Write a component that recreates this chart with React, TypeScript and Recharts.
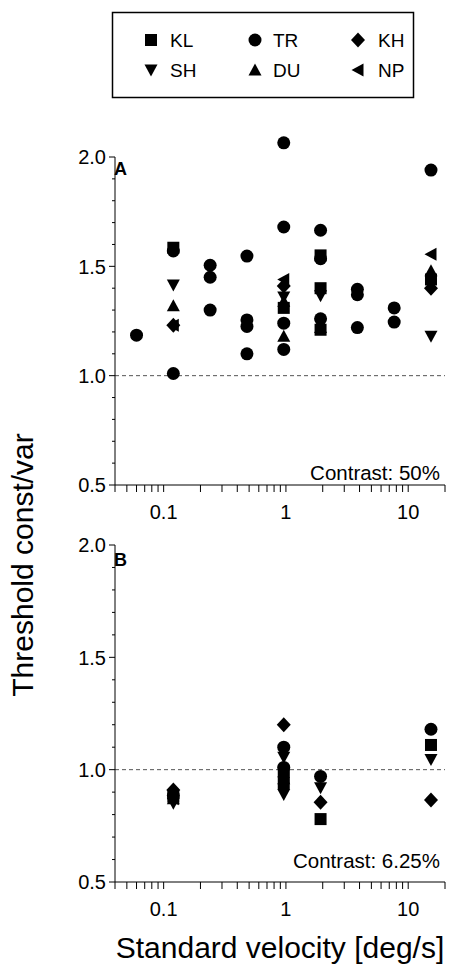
import React from 'react';
import { ScatterChart, Scatter, XAxis, YAxis, ReferenceLine, ReferenceDot } from 'recharts';

type Pt = { v: number; t: number };

const FONT = '"Liberation Sans", Arial, Helvetica, sans-serif';

// tick positions
const xMajorTicks = [0.1, 1, 10];
const xAllTicks = [
  0.04, 0.05, 0.06, 0.07, 0.08, 0.09, 0.1, 0.2, 0.3, 0.4, 0.5, 0.6, 0.7, 0.8, 0.9,
  1, 2, 3, 4, 5, 6, 7, 8, 9, 10, 20,
];
const yAllTicks = [0.5, 0.6, 0.7, 0.8, 0.9, 1.0, 1.1, 1.2, 1.3, 1.4, 1.5, 1.6, 1.7, 1.8, 1.9, 2.0];
const yMajorTicks = [0.5, 1.0, 1.5, 2.0];
const Y_MAX = 2;

// panel A, contrast 50%
const klA: Pt[] = [
  { v: 0.12, t: 1.585 }, { v: 0.96, t: 1.31 }, { v: 1.92, t: 1.55 },
  { v: 1.92, t: 1.4 }, { v: 1.92, t: 1.21 }, { v: 15.36, t: 1.44 },
];
const trA: Pt[] = [
  { v: 0.06, t: 1.185 }, { v: 0.12, t: 1.57 }, { v: 0.12, t: 1.01 },
  { v: 0.24, t: 1.505 }, { v: 0.24, t: 1.45 }, { v: 0.24, t: 1.3 },
  { v: 0.48, t: 1.547 }, { v: 0.48, t: 1.255 }, { v: 0.48, t: 1.225 }, { v: 0.48, t: 1.1 },
  { v: 0.96, t: 2.065 }, { v: 0.96, t: 1.68 }, { v: 0.96, t: 1.24 }, { v: 0.96, t: 1.12 },
  { v: 1.92, t: 1.665 }, { v: 1.92, t: 1.535 }, { v: 1.92, t: 1.26 },
  { v: 3.84, t: 1.395 }, { v: 3.84, t: 1.37 }, { v: 3.84, t: 1.22 },
  { v: 7.68, t: 1.31 }, { v: 7.68, t: 1.245 }, { v: 15.36, t: 1.94 },
];
const khA: Pt[] = [{ v: 0.12, t: 1.23 }, { v: 0.96, t: 1.41 }, { v: 15.36, t: 1.4 }];
const shA: Pt[] = [{ v: 0.12, t: 1.415 }, { v: 0.96, t: 1.36 }, { v: 1.92, t: 1.365 }, { v: 15.36, t: 1.18 }];
const duA: Pt[] = [{ v: 0.12, t: 1.32 }, { v: 0.96, t: 1.34 }, { v: 0.96, t: 1.18 }, { v: 1.92, t: 1.22 }, { v: 15.36, t: 1.48 }];
const npA: Pt[] = [{ v: 0.12, t: 1.23 }, { v: 0.96, t: 1.44 }, { v: 15.36, t: 1.555 }];

// panel B, contrast 6.25%
const klB: Pt[] = [{ v: 0.12, t: 0.88 }, { v: 0.96, t: 0.99 }, { v: 0.96, t: 0.94 }, { v: 1.92, t: 0.78 }, { v: 15.36, t: 1.11 }];
const trB: Pt[] = [{ v: 0.12, t: 0.885 }, { v: 0.96, t: 1.1 }, { v: 0.96, t: 1.01 }, { v: 1.92, t: 0.97 }, { v: 15.36, t: 1.18 }];
const khB: Pt[] = [{ v: 0.12, t: 0.91 }, { v: 0.96, t: 1.2 }, { v: 1.92, t: 0.855 }, { v: 15.36, t: 0.865 }];
const shB: Pt[] = [{ v: 0.12, t: 0.85 }, { v: 0.96, t: 1.055 }, { v: 0.96, t: 0.89 }, { v: 1.92, t: 0.92 }, { v: 15.36, t: 1.045 }];
const duB: Pt[] = [{ v: 0.12, t: 0.87 }, { v: 0.96, t: 0.96 }];
const npB: Pt[] = [{ v: 0.12, t: 0.87 }, { v: 0.96, t: 0.97 }];

const subjects = ['KL', 'TR', 'KH', 'SH', 'DU', 'NP'];
const markerKinds = ['square', 'circle', 'diamond', 'down', 'up', 'left'];

function markerEl(kind: string, cx: number, cy: number, s = 1) {
  switch (kind) {
    case 'square':
      return <rect x={cx - 6 * s} y={cy - 6 * s} width={12 * s} height={12 * s} fill="#000" />;
    case 'circle':
      return <circle cx={cx} cy={cy} r={6.5 * s} fill="#000" />;
    case 'diamond':
      return (
        <polygon
          fill="#000"
          points={`${cx},${cy - 7.5 * s} ${cx + 7 * s},${cy} ${cx},${cy + 7.5 * s} ${cx - 7 * s},${cy}`}
        />
      );
    case 'down':
      return (
        <polygon fill="#000" points={`${cx - 6.5 * s},${cy - 5.5 * s} ${cx + 6.5 * s},${cy - 5.5 * s} ${cx},${cy + 6.5 * s}`} />
      );
    case 'up':
      return (
        <polygon fill="#000" points={`${cx - 6.5 * s},${cy + 5.5 * s} ${cx + 6.5 * s},${cy + 5.5 * s} ${cx},${cy - 6.5 * s}`} />
      );
    default:
      return (
        <polygon fill="#000" points={`${cx + 5.5 * s},${cy - 6.5 * s} ${cx + 5.5 * s},${cy + 6.5 * s} ${cx - 6.5 * s},${cy}`} />
      );
  }
}

const shapeFor = (kind: string) => (p: any) => {
  if (p == null || p.cx == null || p.cy == null) return <g />;
  return markerEl(kind, p.cx, p.cy);
};

function XTick({ x, y, payload }: any) {
  const v = payload?.value;
  if (!xMajorTicks.includes(v)) return <g />;
  return (
    <text x={x} y={y} dy="0.71em" textAnchor="middle" fontSize={20} fontFamily={FONT} fill="#000">
      {String(v)}
    </text>
  );
}

function YTick({ x, y, payload }: any) {
  const v = payload?.value;
  const major = yMajorTicks.some((m) => Math.abs(m - v) < 1e-6);
  return (
    <g>
      <line x1={x} x2={x - (major ? 6 : 3)} y1={y} y2={y} stroke="#000" strokeWidth={1} />
      {major && (
        <text x={x - 9} y={y} dy="0.36em" textAnchor="end" fontSize={20} fontFamily={FONT} fill="#000">
          {v.toFixed(1)}
        </text>
      )}
    </g>
  );
}

function Panel({
  series,
  top,
  plotTop,
  plotHeight,
}: {
  series: Pt[][];
  top: number;
  plotTop: number;
  plotHeight: number;
}) {
  const axisH = 35;
  const height = plotTop + plotHeight + 11 + axisH;
  return (
    <div style={{ position: 'absolute', left: 0, top }}>
      <ScatterChart width={451} height={height} margin={{ top: plotTop, right: 6, bottom: 0, left: 0 }}>
        <XAxis
          xAxisId="sp"
          dataKey="v"
          type="number"
          scale="log"
          domain={[0.04, 20]}
          allowDataOverflow
          height={11}
          tick={false}
          tickLine={false}
          axisLine={false}
        />
        <XAxis
          xAxisId="main"
          dataKey="v"
          type="number"
          scale="log"
          domain={[0.04, 20]}
          allowDataOverflow
          ticks={xAllTicks}
          interval={0}
          height={axisH}
          tickSize={7}
          tickMargin={13}
          tick={<XTick />}
          axisLine={{ stroke: '#000', strokeWidth: 1 }}
          tickLine={{ stroke: '#000', strokeWidth: 1 }}
        />
        <YAxis
          yAxisId="sp"
          dataKey="t"
          type="number"
          domain={[0.5, Y_MAX]}
          allowDataOverflow
          width={13}
          tick={false}
          tickLine={false}
          axisLine={false}
        />
        <YAxis
          yAxisId="main"
          dataKey="t"
          type="number"
          domain={[0.5, Y_MAX]}
          allowDataOverflow
          ticks={yAllTicks}
          interval={0}
          width={102}
          tickSize={0}
          tickMargin={0}
          tickLine={false}
          tick={<YTick />}
          axisLine={{ stroke: '#000', strokeWidth: 1 }}
        />
        <ReferenceLine
          xAxisId="main"
          yAxisId="main"
          y={1}
          stroke="#555"
          strokeWidth={1}
          strokeDasharray="4 3"
        />
        {series.map((d, i) => (
          <Scatter
            key={subjects[i]}
            name={subjects[i]}
            data={d.filter((p) => p.t <= Y_MAX)}
            xAxisId="main"
            yAxisId="main"
            fill="#000"
            shape={shapeFor(markerKinds[i])}
            isAnimationActive={false}
          />
        ))}
        {/* values above the top of the axis are still drawn, as in the original */}
        {series.flatMap((d, i) =>
          d
            .filter((p) => p.t > Y_MAX)
            .map((p, j) => (
              <ReferenceDot
                key={`${subjects[i]}-over-${j}`}
                xAxisId="main"
                yAxisId="main"
                x={p.v}
                y={p.t}
                ifOverflow="visible"
                shape={shapeFor(markerKinds[i])}
              />
            )),
        )}
      </ScatterChart>
    </div>
  );
}

function Legend() {
  const cols = [
    { sx: 151, tx: 170 },
    { sx: 255, tx: 273 },
    { sx: 358, tx: 378 },
  ];
  const rows = [40, 70];
  return (
    <svg width={451} height={110} style={{ position: 'absolute', left: 0, top: 0 }}>
      <rect x={112.5} y={12.5} width={301} height={85} fill="none" stroke="#000" strokeWidth={1.5} />
      {subjects.map((s, i) => {
        const c = cols[i % 3];
        const y = rows[Math.floor(i / 3)];
        return (
          <g key={s}>
            {markerEl(markerKinds[i], c.sx, y)}
            <text x={c.tx} y={y} dy="0.36em" fontSize={19} fontFamily={FONT} fill="#000">
              {s}
            </text>
          </g>
        );
      })}
    </svg>
  );
}

const txt = (s: React.CSSProperties): React.CSSProperties => ({
  position: 'absolute',
  fontFamily: FONT,
  color: '#000',
  whiteSpace: 'nowrap',
  lineHeight: 1,
  ...s,
});

export default function App() {
  return (
    <div style={{ position: 'absolute', left: 0, top: 0, width: 451, height: 970, background: '#fff', overflow: 'hidden' }}>
      <Legend />
      <Panel series={[klA, trA, khA, shA, duA, npA]} top={120} plotTop={37} plotHeight={328} />
      <Panel series={[klB, trB, khB, shB, duB, npB]} top={510} plotTop={35} plotHeight={337} />
      <div style={txt({ left: 114, top: 160, fontSize: 18, fontWeight: 'bold' })}>A</div>
      <div style={txt({ left: 114, top: 551, fontSize: 18, fontWeight: 'bold' })}>B</div>
      <div style={txt({ right: 11, top: 463, fontSize: 20.5 })}>Contrast: 50%</div>
      <div style={txt({ right: 11, top: 851, fontSize: 20.5 })}>Contrast: 6.25%</div>
      <svg width={451} height={970} style={{ position: 'absolute', left: 0, top: 0, pointerEvents: 'none' }}>
        <text x={280} y={958} textAnchor="middle" fontSize={30} fontFamily={FONT} fill="#000">
          Standard velocity [deg/s]
        </text>
        <text
          x={0}
          y={0}
          transform="translate(33,565) rotate(-90)"
          textAnchor="middle"
          fontSize={30}
          fontFamily={FONT}
          fill="#000"
        >
          Threshold const/var
        </text>
      </svg>
    </div>
  );
}
